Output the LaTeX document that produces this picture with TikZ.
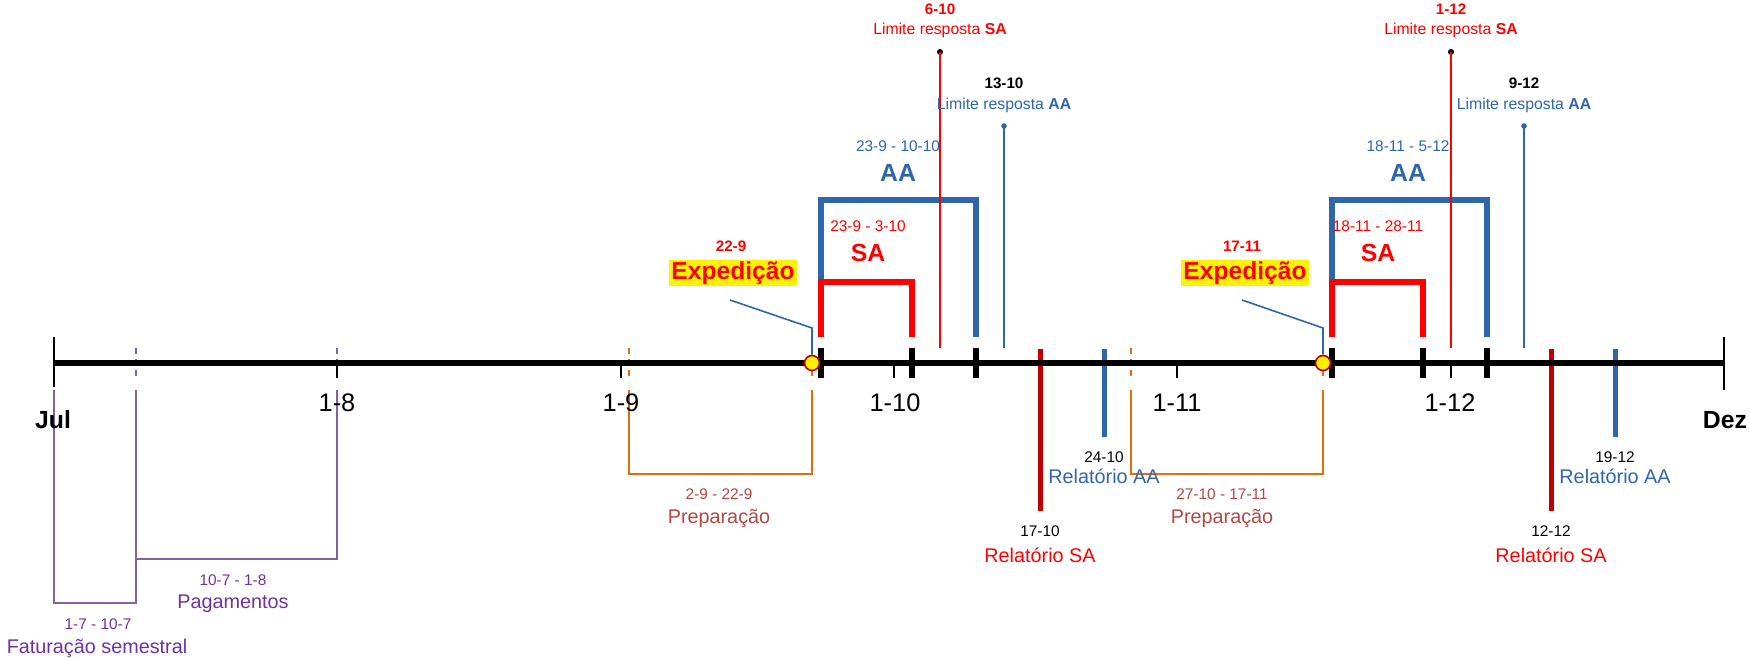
\documentclass[tikz,border=0pt]{standalone}
\usepackage{fontspec}
\setmainfont{Liberation Sans}
\definecolor{cred}{RGB}{255,0,0}
\definecolor{cdred}{RGB}{192,0,0}
\definecolor{cblue}{RGB}{46,101,171}
\definecolor{corange}{RGB}{228,108,10}
\definecolor{cbrown}{RGB}{176,72,68}
\definecolor{cpurl}{RGB}{128,100,162}
\definecolor{cpurt}{RGB}{112,48,160}
\tikzset{
  lbl/.style={inner sep=0pt, anchor=center},
  fsmall/.style={font=\fontsize{7.7}{9}\selectfont},
  flim/.style={font=\fontsize{7.9}{9}\selectfont},
  fsmallb/.style={font=\fontsize{7.6}{9}\bfseries\selectfont},
  fmid/.style={font=\fontsize{9.9}{12}\selectfont},
  faxis/.style={font=\fontsize{12.7}{15}\selectfont},
  fbig/.style={font=\fontsize{12.4}{15}\bfseries\selectfont},
  axisline/.style={line width=2.7pt, black},
  thicktick/.style={line width=2.6pt, black},
  thintick/.style={line width=0.8pt, black},
  dtick/.style={line width=0.9pt, dash pattern=on 3pt off 2.5pt},
  bracketA/.style={line width=2.6pt, cblue},
  bracketS/.style={line width=3pt, cred},
  thinbr/.style={line width=1.3pt},
  relS/.style={line width=2.5pt, cdred},
  relA/.style={line width=2.5pt, cblue},
  limS/.style={line width=1pt, cred},
  limA/.style={line width=1pt, cblue},
  expbox/.style={fill=yellow, inner xsep=1pt, inner ysep=0.6pt, text=cred, font=\fontsize{12.3}{15}\bfseries\selectfont},
  expdot/.style={circle, fill=yellow, draw=cdred, line width=0.8pt, minimum size=7.5pt, inner sep=0pt},
  blackdot/.style={circle, fill=black, minimum size=3pt, inner sep=0pt},
  conn/.style={line width=0.8pt, cblue}
}
\begin{document}
\begin{tikzpicture}[x=0.5pt,y=-0.5pt]
\useasboundingbox (0,0) rectangle (1749,658);

% ---- purple brackets
\draw[cpurl, thinbr] (54,390) -- (54,603) -- (136,603) -- (136,390);
\draw[cpurl, thinbr] (136,559) -- (337,559) -- (337,390);
% ---- orange brackets
\draw[corange, thinbr] (629,390) -- (629,474) -- (812,474) -- (812,390);
\draw[corange, thinbr] (1131,390) -- (1131,474) -- (1323,474) -- (1323,390);

% ---- dashed ticks
\draw[cpurl, dtick] (136,348) -- (136,378);
\draw[cpurl, dtick] (337,348) -- (337,378);
\draw[corange, dtick] (629,348) -- (629,378);
\draw[corange, dtick] (812,348) -- (812,378);
\draw[corange, dtick] (1131,348) -- (1131,378);
\draw[corange, dtick] (1323,348) -- (1323,378);

% ---- end ticks
\draw[thintick] (54,337) -- (54,387);
\draw[thintick] (1724,337) -- (1724,390);
% ---- month ticks
\foreach \x in {337,621,894,1177,1451} \draw[thintick] (\x,363) -- (\x,378);

% ---- Relatorio lines
\draw[relS] (1040,349) -- (1040,511);
\draw[relS] (1551,349) -- (1551,511);
\draw[relA] (1104,349) -- (1104,437);
\draw[relA] (1615,349) -- (1615,437);

% ---- axis
\draw[axisline] (54,363) -- (1724,363);
\foreach \x in {821,912,976,1332,1423,1487} \draw[thicktick] (\x,348) -- (\x,378);

% ---- brackets AA / SA
\draw[bracketA] (821,337) -- (821,200) -- (976,200) -- (976,337);
\draw[bracketS] (821,337) -- (821,282) -- (912,282) -- (912,337);
\draw[bracketA] (1332,337) -- (1332,200) -- (1487,200) -- (1487,337);
\draw[bracketS] (1332,337) -- (1332,282) -- (1423,282) -- (1423,337);

% ---- limite lines
\node[blackdot] (d1) at (940,52) {};
\draw[limS] (d1.center) -- (940,348);
\node[blackdot, fill=cblue, minimum size=2.8pt] (d2) at (1004,126) {};
\draw[limA] (d2.center) -- (1004,348);
\node[blackdot] (d3) at (1451,52) {};
\draw[limS] (d3.center) -- (1451,348);
\node[blackdot, fill=cblue, minimum size=2.8pt] (d4) at (1524,126) {};
\draw[limA] (d4.center) -- (1524,348);

% ---- expedicao
\node[expdot] (c1) at (812,363) {};
\node[expdot] (c2) at (1323,363) {};
\draw[conn] (730,300) -- (812,328) -- (c1.north);
\draw[conn] (1242,300) -- (1323,328) -- (c2.north);
\node[expbox] (e1) at (733,273) {Expedição};
\node[expbox] (e2) at (1245,273) {Expedição};
\node[lbl, fsmallb, cred] (e1d) at (731,246) {22-9};
\node[lbl, fsmallb, cred] (e2d) at (1242,246) {17-11};

% ---- top labels
\node[lbl, fsmallb, cred] (l1d) at (940,9) {6-10};
\node[lbl, flim, cred] (l1) at (940,30) {Limite resposta \textbf{SA}};
\node[lbl, fsmallb, black] (l2d) at (1004,83) {13-10};
\node[lbl, flim, cblue] (l2) at (1004,105) {Limite resposta \textbf{AA}};
\node[lbl, fsmallb, cred] (l3d) at (1451,9) {1-12};
\node[lbl, flim, cred] (l3) at (1451,30) {Limite resposta \textbf{SA}};
\node[lbl, fsmallb, black] (l4d) at (1524,83) {9-12};
\node[lbl, flim, cblue] (l4) at (1524,105) {Limite resposta \textbf{AA}};

\node[lbl, fsmall, cblue] (a1d) at (898,146) {23-9 - 10-10};
\node[lbl, fbig, cblue] (a1) at (898,173) {AA};
\node[lbl, fsmall, cred] (s1d) at (868,226) {23-9 - 3-10};
\node[lbl, fbig, cred] (s1) at (868,253) {SA};
\node[lbl, fsmall, cblue] (a2d) at (1408,146) {18-11 - 5-12};
\node[lbl, fbig, cblue] (a2) at (1408,173) {AA};
\node[lbl, fsmall, cred] (s2d) at (1378,226) {18-11 - 28-11};
\node[lbl, fbig, cred] (s2) at (1378,253) {SA};

% ---- axis labels
\node[lbl, fbig] (jul) at (53,420) {Jul};
\node[lbl, fbig] (dez) at (1725,420) {Dez};
\node[lbl, faxis] (m8) at (337,403) {1-8};
\node[lbl, faxis] (m9) at (621,403) {1-9};
\node[lbl, faxis] (m10) at (895,403) {1-10};
\node[lbl, faxis] (m11) at (1177,403) {1-11};
\node[lbl, faxis] (m12) at (1450,403) {1-12};

% ---- bottom labels
\node[lbl, fsmall, cbrown] (p1d) at (719,494) {2-9 - 22-9};
\node[lbl, fmid, cbrown] (p1) at (719,518) {Preparação};
\node[lbl, fsmall, cbrown] (p2d) at (1222,494) {27-10 - 17-11};
\node[lbl, fmid, cbrown] (p2) at (1222,518) {Preparação};

\node[lbl, fsmall, black] (r1d) at (1040,531) {17-10};
\node[lbl, fmid, cred] (r1) at (1040,555) {Relatório SA};
\node[lbl, fsmall, black] (r2d) at (1104,457) {24-10};
\node[lbl, fmid, cblue] (r2) at (1104,476) {Relatório AA};
\node[lbl, fsmall, black] (r3d) at (1551,531) {12-12};
\node[lbl, fmid, cred] (r3) at (1551,555) {Relatório SA};
\node[lbl, fsmall, black] (r4d) at (1615,457) {19-12};
\node[lbl, fmid, cblue] (r4) at (1615,476) {Relatório AA};

\node[lbl, fsmall, cpurt] (pgd) at (233,580) {10-7 - 1-8};
\node[lbl, fmid, cpurt] (pg) at (233,604) {Pagamentos};
\node[lbl, fsmall, cpurt] (fsd) at (98,624) {1-7 - 10-7};
\node[lbl, fmid, cpurt] (fs) at (97,648) {Faturação semestral};
\end{tikzpicture}
\end{document}
